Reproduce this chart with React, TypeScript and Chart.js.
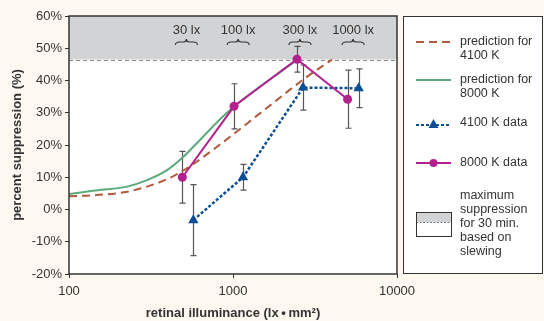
import React, { useEffect, useRef } from 'react';
import { Chart, registerables } from 'chart.js';
Chart.register(...registerables);

// ---- data ----
const pred4100Lux = [100, 140, 226, 299, 396, 525, 777, 1503, 2748, 4018];
const pred4100Val = [4.1, 4.4, 5.5, 7.1, 9.4, 12.8, 19.0, 30.3, 40.7, 46.5];
const pred8000Lux = [100, 140, 226, 299, 396, 495, 587, 933, 2455];
const pred8000Val = [4.8, 5.8, 7.1, 9.1, 12.2, 16.2, 20.0, 30.3, 46.4];

const data4100Lux = [573, 1151, 2673, 5837];
const data4100Val = [-3.3, 10, 37.8, 37.6];
const data4100Err = [11, 4, 7, 6];

const data8000Lux = [491, 1015, 2455, 5000];
const data8000Val = [10, 32, 46.6, 34.2];
const data8000Err = [8, 7, 4, 9];

const maxSuppression = 46.5;

const illumLabels = ['30 lx', '100 lx', '300 lx', '1000 lx'];
const illumLabelLux = [520, 1075, 2560, 5400];

const xTicks = [100, 1000, 10000];
const yMin = -20;
const yMax = 60;

const legendLabels = [
  ['prediction for', '4100 K'],
  ['prediction for', '8000 K'],
  ['4100 K data'],
  ['8000 K data'],
  ['maximum', 'suppression', 'for 30 min.', 'based on', 'slewing'],
];

// ---- styles ----
const FONT = '"Liberation Sans", Arial, Helvetica, sans-serif';
const TEXT = '#333333';
const C_BROWN = '#b35a3c';
const C_GREEN = '#5aaa7c';
const C_BLUE = '#0d4f94';
const C_MAGENTA = '#b4218f';
const C_BAND = '#d2d3d5';
const C_BG = '#fdf9f0';

const zip = (xs: number[], ys: number[]) => xs.map((x, i) => ({ x, y: ys[i] }));

const chartPlugin = {
  id: 'custom',
  beforeDraw(chart: any) {
    const { ctx, chartArea: a, scales } = chart;
    ctx.save();
    ctx.fillStyle = C_BG;
    ctx.fillRect(0, 0, chart.width, chart.height);
    ctx.fillStyle = '#ffffff';
    ctx.fillRect(a.left, a.top, a.right - a.left, a.bottom - a.top);
    const yb = scales.y.getPixelForValue(maxSuppression);
    ctx.fillStyle = C_BAND;
    ctx.fillRect(a.left, a.top, a.right - a.left, yb - a.top);
    ctx.strokeStyle = '#8a8a8a';
    ctx.lineWidth = 1;
    ctx.setLineDash([4, 3]);
    ctx.beginPath();
    ctx.moveTo(a.left, Math.round(yb) + 0.5);
    ctx.lineTo(a.right, Math.round(yb) + 0.5);
    ctx.stroke();
    ctx.setLineDash([]);
    // annotations
    ctx.fillStyle = TEXT;
    ctx.font = `13px ${FONT}`;
    ctx.textAlign = 'center';
    ctx.textBaseline = 'middle';
    illumLabels.forEach((t, i) => {
      const cx = scales.x.getPixelForValue(illumLabelLux[i]);
      ctx.fillText(t, cx, a.top + 14);
      const y = a.top + 26;
      ctx.strokeStyle = TEXT;
      ctx.lineWidth = 1.2;
      ctx.beginPath();
      ctx.moveTo(cx - 11, y + 3);
      ctx.quadraticCurveTo(cx - 11, y, cx - 7, y);
      ctx.lineTo(cx - 3, y);
      ctx.quadraticCurveTo(cx, y, cx, y - 3);
      ctx.quadraticCurveTo(cx, y, cx + 3, y);
      ctx.lineTo(cx + 7, y);
      ctx.quadraticCurveTo(cx + 11, y, cx + 11, y + 3);
      ctx.stroke();
    });
    ctx.restore();
  },
  beforeDatasetsDraw(chart: any) {
    const { ctx, scales } = chart;
    ctx.save();
    ctx.strokeStyle = '#555555';
    ctx.lineWidth = 1.2;
    const draw = (lux: number[], val: number[], err: number[]) => {
      lux.forEach((l, i) => {
        const x = Math.round(scales.x.getPixelForValue(l)) + 0.5;
        const y1 = scales.y.getPixelForValue(val[i] + err[i]);
        const y2 = scales.y.getPixelForValue(val[i] - err[i]);
        ctx.beginPath();
        ctx.moveTo(x, y1);
        ctx.lineTo(x, y2);
        ctx.moveTo(x - 3, y1);
        ctx.lineTo(x + 3, y1);
        ctx.moveTo(x - 3, y2);
        ctx.lineTo(x + 3, y2);
        ctx.stroke();
      });
    };
    draw(data8000Lux, data8000Val, data8000Err);
    draw(data4100Lux, data4100Val, data4100Err);
    ctx.restore();
  },
  afterDraw(chart: any) {
    const { ctx, chartArea: a } = chart;
    ctx.save();
    // plot frame
    ctx.strokeStyle = '#333333';
    ctx.lineWidth = 1.5;
    ctx.strokeRect(a.left, a.top, a.right - a.left, a.bottom - a.top);

    // legend box
    const L = a.right + 6;
    const R = chart.width - 1;
    const T = a.top;
    const B = a.bottom;
    ctx.fillStyle = '#ffffff';
    ctx.fillRect(L, T, R - L, B - T);
    ctx.lineWidth = 1;
    ctx.strokeRect(L + 0.5, T + 0.5, R - L - 1, B - T - 1);

    const sx0 = L + 13;
    const sx1 = L + 48;
    const tx = L + 57;
    ctx.font = `12.5px ${FONT}`;
    ctx.fillStyle = TEXT;
    ctx.textAlign = 'left';
    ctx.textBaseline = 'middle';
    const lh = 14;
    const writeLines = (lines: string[], y0: number) =>
      lines.forEach((s, i) => ctx.fillText(s, tx, y0 + i * lh));

    // item 1: brown dashed
    let y = T + 26;
    ctx.strokeStyle = C_BROWN;
    ctx.lineWidth = 2;
    ctx.setLineDash([8, 5]);
    ctx.beginPath(); ctx.moveTo(sx0, y); ctx.lineTo(sx1, y); ctx.stroke();
    ctx.setLineDash([]);
    writeLines(legendLabels[0], y);

    // item 2: green
    y = T + 64;
    ctx.strokeStyle = C_GREEN;
    ctx.beginPath(); ctx.moveTo(sx0, y); ctx.lineTo(sx1, y); ctx.stroke();
    writeLines(legendLabels[1], y);

    // item 3: blue dotted with triangle
    y = T + 109;
    ctx.strokeStyle = C_BLUE;
    ctx.lineWidth = 2.2;
    ctx.setLineDash([3, 2]);
    ctx.beginPath(); ctx.moveTo(sx0, y); ctx.lineTo(sx1, y); ctx.stroke();
    ctx.setLineDash([]);
    const mx = (sx0 + sx1) / 2;
    ctx.fillStyle = C_BLUE;
    ctx.beginPath();
    ctx.moveTo(mx, y - 6);
    ctx.lineTo(mx + 5, y + 3);
    ctx.lineTo(mx - 5, y + 3);
    ctx.closePath();
    ctx.fill();
    ctx.fillStyle = TEXT;
    writeLines(legendLabels[2], y - 2);

    // item 4: magenta with circle
    y = T + 147;
    ctx.strokeStyle = C_MAGENTA;
    ctx.lineWidth = 2;
    ctx.beginPath(); ctx.moveTo(sx0, y); ctx.lineTo(sx1, y); ctx.stroke();
    ctx.fillStyle = C_MAGENTA;
    ctx.beginPath(); ctx.arc(mx, y, 4, 0, Math.PI * 2); ctx.fill();
    ctx.fillStyle = TEXT;
    writeLines(legendLabels[3], y);

    // item 5: band box
    const bt = T + 196;
    const bb = T + 220;
    const bm = T + 206;
    ctx.fillStyle = C_BAND;
    ctx.fillRect(sx0, bt, sx1 - sx0, bm - bt);
    ctx.strokeStyle = '#777777';
    ctx.lineWidth = 1;
    ctx.setLineDash([2, 1.5]);
    ctx.beginPath(); ctx.moveTo(sx0, bm + 0.5); ctx.lineTo(sx1, bm + 0.5); ctx.stroke();
    ctx.setLineDash([]);
    ctx.strokeStyle = '#333333';
    ctx.strokeRect(sx0 + 0.5, bt + 0.5, sx1 - sx0, bb - bt);
    ctx.fillStyle = TEXT;
    writeLines(legendLabels[4], T + 180);

    ctx.restore();
  },
};

export default function App() {
  const ref = useRef<HTMLCanvasElement>(null);
  useEffect(() => {
    document.body.style.margin = '0';
    document.body.style.background = C_BG;
    const chart = new Chart(ref.current as HTMLCanvasElement, {
      type: 'line',
      data: {
        datasets: [
          {
            label: '8000 K data',
            data: zip(data8000Lux, data8000Val),
            borderColor: C_MAGENTA,
            backgroundColor: C_MAGENTA,
            borderWidth: 2,
            pointRadius: 4.5,
            pointStyle: 'circle',
            pointBorderWidth: 0,
            tension: 0,
          },
          {
            label: '4100 K data',
            data: zip(data4100Lux, data4100Val),
            borderColor: C_BLUE,
            backgroundColor: C_BLUE,
            borderWidth: 2.5,
            borderDash: [3, 2],
            pointRadius: 6,
            pointStyle: 'triangle',
            pointBorderWidth: 0,
            tension: 0,
          },
          {
            label: 'prediction for 8000 K',
            data: zip(pred8000Lux, pred8000Val),
            borderColor: C_GREEN,
            borderWidth: 2,
            pointRadius: 0,
            cubicInterpolationMode: 'monotone',
          },
          {
            label: 'prediction for 4100 K',
            data: zip(pred4100Lux, pred4100Val),
            borderColor: C_BROWN,
            borderWidth: 2,
            borderDash: [8, 5],
            pointRadius: 0,
            cubicInterpolationMode: 'monotone',
          },
        ] as any,
      },
      options: {
        animation: false,
        responsive: false,
        devicePixelRatio: 1,
        layout: { padding: { top: 16, right: 147, left: 0, bottom: 0 } },
        plugins: { legend: { display: false }, tooltip: { enabled: false } },
        scales: {
          x: {
            type: 'logarithmic',
            min: 100,
            max: 10000,
            afterBuildTicks: (s: any) => {
              s.ticks = xTicks.map((v) => ({ value: v }));
            },
            afterFit: (s: any) => {
              s.height = 47;
            },
            grid: { display: true, drawOnChartArea: false, drawTicks: true, tickLength: 4, color: '#333' },
            border: { display: false },
            ticks: {
              color: TEXT,
              font: { family: FONT, size: 13 },
              padding: 6,
              maxRotation: 0,
              autoSkip: false,
              callback: (v: any) => String(v),
            },
            title: {
              display: true,
              text: 'retinal illuminance (lx\u2009•\u2009mm²)',
              color: TEXT,
              font: { family: FONT, size: 13, weight: 'bold' },
              padding: { top: 0, bottom: 0 },
            },
          },
          y: {
            type: 'linear',
            min: yMin,
            max: yMax,
            afterFit: (s: any) => {
              s.width = 69;
            },
            grid: { display: true, drawOnChartArea: false, drawTicks: true, tickLength: 4, color: '#333' },
            border: { display: false },
            ticks: {
              stepSize: 10,
              color: TEXT,
              font: { family: FONT, size: 13 },
              padding: 3,
              callback: (v: any) => `${v}%`,
            },
            title: {
              display: true,
              text: 'percent suppression (%)',
              color: TEXT,
              font: { family: FONT, size: 13, weight: 'bold' },
              padding: { top: 10, bottom: 0 },
            },
          },
        },
      } as any,
      plugins: [chartPlugin],
    });
    return () => chart.destroy();
  }, []);
  return (
    <div style={{ position: 'absolute', left: 0, top: 0, width: 544, height: 321 }}>
      <canvas ref={ref} width={544} height={321} />
    </div>
  );
}
